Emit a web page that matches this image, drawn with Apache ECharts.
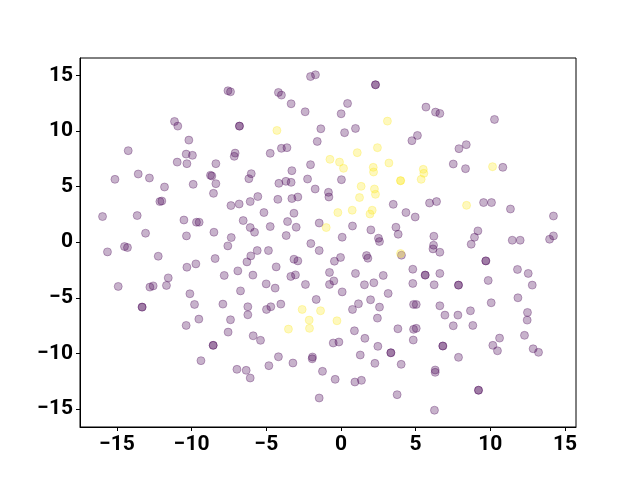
<!DOCTYPE html>
<html>
<head>
<meta charset="utf-8">
<script src="https://cdn.jsdelivr.net/npm/echarts@6/dist/echarts.min.js"></script>
<style>
    html, body { margin: 0; padding: 0; background: #fff; }
    #main { width: 640px; height: 480px; }
</style>
</head>
<body>
<div id="main"></div>
<script>
// 标签 0 的点 (紫色)
var groupA = [
    [-7.57, 13.63], [-7.40, 13.54], [-11.15, 10.87], [-10.93, 10.45], [-6.80, 10.45], [-6.80, 10.45],
    [-10.19, 9.19], [-14.25, 8.24], [-10.37, 7.93], [-9.95, 7.82], [-7.09, 8.02], [-7.15, 7.73],
    [-10.97, 7.21], [-10.32, 7.07], [-8.38, 7.07], [-15.14, 5.66], [-13.58, 6.14], [-12.83, 5.78],
    [-8.74, 6.02], [-8.65, 5.96], [-11.82, 4.97], [-9.90, 5.21], [-8.38, 5.27], [-8.54, 4.40],
    [-12.13, 3.66], [-12.00, 3.71], [-7.37, 3.30], [-6.82, 3.44], [-15.97, 2.31], [-13.65, 2.40],
    [-10.52, 2.00], [-9.68, 1.80], [-9.50, 1.80], [-6.55, 1.95], [-13.09, 0.81], [-10.35, 0.57],
    [-8.51, 0.90], [-7.35, 0.42],
    [-15.64, -0.87], [-14.50, -0.39], [-14.30, -0.48], [-12.24, -1.26], [-10.32, -2.25], [-9.72, -1.95],
    [-8.43, -1.47], [-7.58, -0.33], [-6.30, -1.77], [-6.91, -2.58], [-7.82, -2.99], [-14.92, -3.98],
    [-12.80, -4.04], [-12.58, -3.93], [-11.57, -3.21], [-11.69, -3.89], [-13.32, -5.84], [-13.32, -5.84],
    [-10.12, -4.64], [-9.81, -5.60], [-7.91, -5.57], [-6.73, -4.38], [-6.24, -5.81], [-6.24, -6.53],
    [-10.37, -7.49], [-9.52, -6.92], [-7.40, -6.98], [-7.56, -8.09], [-8.56, -9.28], [-8.56, -9.28],
    [-9.38, -10.66], [-6.97, -11.44], [-6.35, -11.53],
    [-2.04, 14.91], [-1.71, 15.07], [2.31, 14.17], [2.31, 14.17], [-4.19, 13.48], [-3.99, 13.24],
    [-3.34, 12.46], [-2.40, 11.74], [0.44, 12.49], [0.01, 11.56], [-1.35, 10.21], [0.24, 9.86],
    [0.97, 10.24], [4.75, 9.14], [5.12, 9.61], [-1.59, 9.07], [-4.74, 8.00], [-3.99, 8.45],
    [-3.62, 8.51], [-2.04, 6.98], [-3.29, 6.44], [-6.01, 6.17], [-6.17, 5.72], [-4.16, 5.30],
    [-3.69, 5.48], [-3.34, 5.39], [-2.24, 5.69], [0.03, 5.63], [-1.73, 4.79], [-0.84, 4.49],
    [-0.81, 4.07], [-5.57, 4.11], [-6.08, 3.66], [-4.23, 3.86], [-3.29, 3.93], [-2.89, 4.07],
    [-5.16, 2.67], [-3.15, 2.61], [-6.08, 1.32], [-5.79, 0.90], [-4.74, 1.41], [-3.58, 1.86],
    [-3.00, 1.35], [-3.67, 0.60], [-1.46, 1.73], [0.77, 1.46], [0.08, 0.45], [2.00, 1.11],
    [3.50, 3.41], [4.35, 2.67], [4.97, 2.27], [3.68, 1.35], [3.83, 0.72], [2.51, 0.36], [2.58, 0.06],
    [5.69, 12.16], [6.33, 11.71], [6.62, 11.59], [10.28, 11.05], [7.90, 8.42], [8.39, 8.78],
    [7.52, 7.04], [8.34, 6.62], [10.84, 6.74], [5.93, 3.53], [6.40, 3.66], [9.55, 3.57],
    [10.08, 3.57], [11.35, 2.99], [14.23, 2.36], [6.22, 0.54], [9.17, 1.02], [8.94, 0.45],
    [11.47, 0.18], [12.00, 0.18], [13.97, 0.27], [14.23, 0.57],
    [-2.02, -0.12], [-1.46, -0.75], [-5.61, -0.75], [-4.86, -0.75], [-6.04, -1.23], [-4.34, -2.22],
    [-3.15, -1.53], [-2.89, -1.68], [-5.90, -2.96], [-3.36, -3.08], [-3.05, -2.94], [-5.01, -3.75],
    [-4.41, -4.13], [-2.38, -3.80], [-0.77, -2.72], [-0.44, -1.71], [-0.03, -1.37], [-0.77, -3.80],
    [-0.48, -3.48], [0.08, -4.47], [1.71, -1.20], [1.80, -1.44], [0.97, -2.81], [1.57, -3.83],
    [2.20, -3.65], [2.83, -2.99], [3.16, -4.61], [4.05, -1.17], [4.81, -2.43], [4.81, -3.71],
    [-1.66, -5.15], [-4.03, -5.57], [-4.99, -6.05], [-4.70, -5.81], [1.17, -5.54], [0.77, -6.05],
    [1.98, -5.18], [2.58, -5.84], [2.44, -6.83], [0.90, -7.97], [1.60, -8.65], [3.81, -7.79],
    [-0.52, -9.07], [-0.14, -8.98], [2.47, -9.37], [3.34, -9.95], [3.34, -9.95], [-5.88, -8.42],
    [-5.39, -8.83], [-4.19, -10.31], [-4.83, -11.11], [-3.22, -10.87], [-1.91, -10.33], [-1.93, -10.49],
    [-1.24, -11.62], [1.29, -10.15], [2.27, -10.90], [4.03, -10.99], [-6.08, -12.22], [-0.39, -12.34],
    [0.93, -12.58], [1.37, -12.43], [-1.46, -14.02], [3.76, -13.72],
    [6.20, -0.27], [6.16, -0.60], [6.62, -0.90], [8.72, -0.18], [5.64, -2.96], [5.64, -2.96],
    [6.62, -2.81], [6.24, -3.83], [7.87, -3.86], [7.87, -3.86], [9.70, -1.68], [9.70, -1.68],
    [9.86, -3.44], [11.82, -2.45], [12.54, -2.81], [12.81, -3.86], [10.06, -5.45], [11.85, -5.00],
    [4.86, -5.60], [5.04, -5.60], [6.62, -5.72], [6.96, -6.56], [7.83, -6.56], [8.67, -6.17],
    [7.52, -7.52], [8.83, -7.49], [12.49, -6.32], [12.47, -7.01], [5.04, -7.75], [4.86, -7.84],
    [4.84, -8.80], [6.82, -9.34], [6.82, -9.34], [7.87, -10.36], [10.62, -8.63], [10.17, -9.28],
    [10.48, -9.77], [12.29, -8.38], [12.87, -9.59], [13.23, -9.91], [6.31, -11.50], [6.31, -11.71],
    [9.21, -13.32], [9.21, -13.32], [6.26, -15.12]
];

// 标签 1 的点 (黄色)
var groupB = [
    [-4.29, 10.06], [3.11, 10.90], [-0.74, 7.46], [-0.10, 7.21], [0.17, 6.65], [1.09, 8.06],
    [2.44, 8.51], [3.21, 7.13], [2.16, 6.74], [2.18, 6.32], [3.99, 5.54], [3.99, 5.54],
    [1.35, 5.03], [1.24, 4.02], [2.24, 4.79], [2.31, 4.31], [-0.21, 2.67], [0.75, 2.88],
    [1.94, 2.54], [2.09, 2.88], [-0.99, 1.32], [10.15, 6.80], [5.51, 6.56], [5.55, 6.20],
    [5.37, 5.66], [8.41, 3.32], [3.99, -1.02], [-2.60, -6.05], [-1.37, -6.17], [-2.13, -7.01],
    [-2.11, -7.75], [-3.52, -7.82], [-0.27, -7.07]
];

var tickValues = [-15, -10, -5, 0, 5, 10, 15];
var xRange = [-17.48, 15.74];
var yRange = [-16.63, 16.58];

var myChart = echarts.init(document.getElementById('main'), null, {renderer: 'canvas'});

function minusFmt(v) {
    return String(v).replace('-', '\u2212');
}

function makeAxis(range, pos) {
    return {
        type: 'value',
        position: pos,
        min: range[0],
        max: range[1],
        splitLine: {show: false},
        axisLine: {show: true, onZero: false, lineStyle: {color: '#000', width: 1}},
        axisTick: {
            show: true,
            inside: false,
            length: 4,
            customValues: tickValues,
            lineStyle: {color: '#000', width: 1}
        },
        axisLabel: {
            show: true,
            customValues: tickValues,
            margin: 7,
            color: '#000',
            fontFamily: 'Roboto',
            fontWeight: 'bold',
            fontSize: 21,
            formatter: minusFmt,
            showMinLabel: true,
            showMaxLabel: true
        }
    };
}

var dotStyle = function (rgb) {
    return {
        color: 'rgba(' + rgb + ',0.3)',
        borderColor: 'rgba(' + rgb + ',0.3)',
        borderWidth: 1,
        opacity: 1
    };
};

var option = {
    animation: false,
    backgroundColor: '#fff',
    grid: {
        left: 80,
        right: 64,
        top: 58,
        bottom: 53,
        show: true,
        borderColor: '#000',
        borderWidth: 1,
        backgroundColor: 'transparent'
    },
    xAxis: makeAxis(xRange, 'bottom'),
    yAxis: makeAxis(yRange, 'left'),
    series: [{
        type: 'scatter',
        data: groupA,
        symbol: 'circle',
        symbolSize: 8,
        itemStyle: dotStyle('68,1,84'),
        emphasis: {disabled: true}
    }, {
        type: 'scatter',
        data: groupB,
        symbol: 'circle',
        symbolSize: 8,
        itemStyle: dotStyle('253,231,37'),
        emphasis: {disabled: true}
    }]
};

myChart.setOption(option);
</script>
</body>
</html>
